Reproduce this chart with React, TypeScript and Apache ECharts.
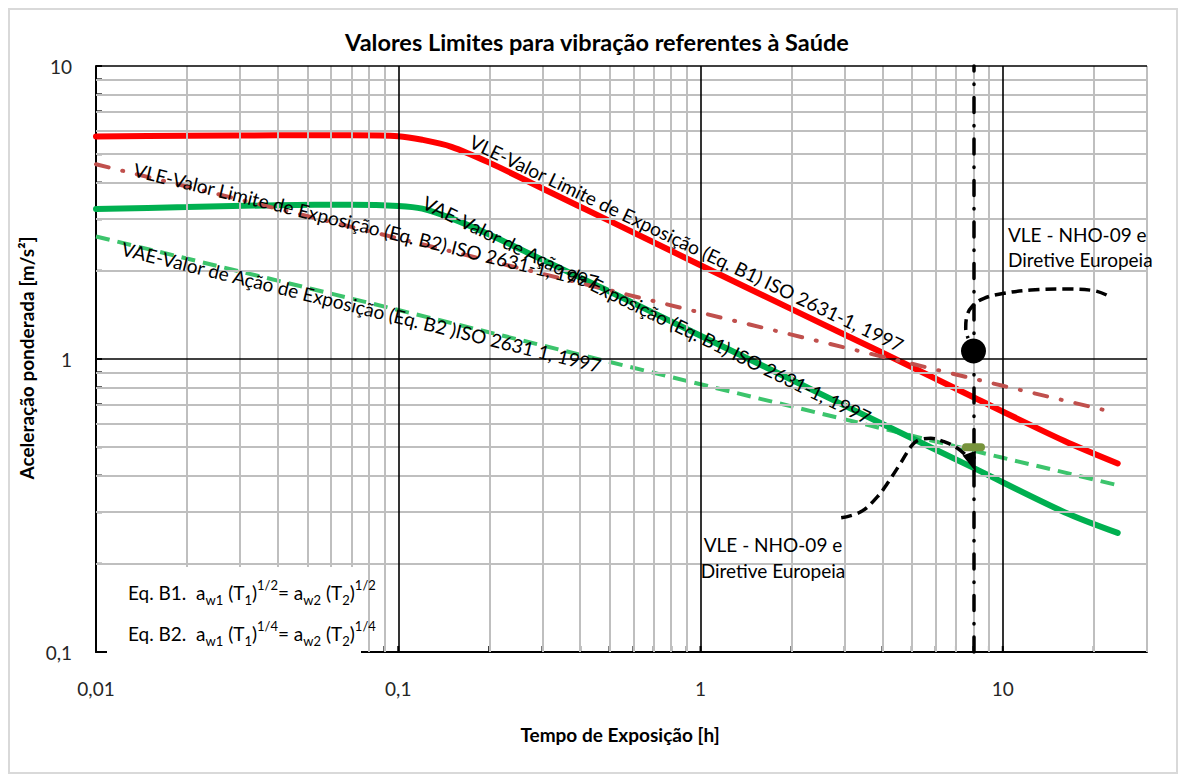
import React, { useEffect, useRef } from "react";
import * as echarts from "echarts";

// ---- axis ticks / labels ----
const xTickValues = [0.01, 0.1, 1, 10];
const xTickLabels = ["0,01", "0,1", "1", "10"];
const yTickValues = [0.1, 1, 10];
const yTickLabels = ["0,1", "1", "10"];

const xMinorGrid = [0.02, 0.03, 0.04, 0.05, 0.06, 0.07, 0.08, 0.09, 0.2, 0.3, 0.4, 0.5, 0.6, 0.7, 0.8, 0.9, 2, 3, 4, 5, 6, 7, 8, 9, 20, 30];
const xMajorGrid = [0.1, 1, 10];
const yMinorGrid = [0.2, 0.3, 0.4, 0.5, 0.6, 0.7, 0.8, 0.9, 2, 3, 4, 5, 6, 7, 8, 9];
const yMajorGrid = [1, 10];

// ---- series data (T in hours, a in m/s²) ----
const vleB1Time = [0.01, 0.02, 0.04, 0.07, 0.1, 0.12, 0.15, 0.2, 0.3, 0.5, 1, 2, 4, 8, 16, 24];
const vleB1Acc = [5.75, 5.78, 5.8, 5.8, 5.76, 5.6, 5.3, 4.68, 3.82, 2.96, 2.09, 1.48, 1.05, 0.74, 0.525, 0.44];

const vaeB1Time = [0.01, 0.02, 0.04, 0.07, 0.1, 0.12, 0.15, 0.2, 0.3, 0.5, 1, 2, 4, 8, 16, 24];
const vaeB1Acc = [3.25, 3.3, 3.35, 3.36, 3.33, 3.26, 3.02, 2.66, 2.18, 1.7, 1.2, 0.85, 0.6, 0.425, 0.3, 0.255];

const vleB2Time = [0.01, 0.1, 1, 10, 21.6];
const vleB2Acc = [4.62, 2.58, 1.44, 0.81, 0.67];

const vaeB2Time = [0.01, 0.1, 1, 10, 23.5];
const vaeB2Acc = [2.62, 1.47, 0.82, 0.46, 0.373];

const limitTime = 8;
const nhoVle = 1.065;
const nhoVae = 0.5;

const upperArrowTime = [22.05, 20.06, 15.96, 12.38, 10.1, 8.67, 7.94, 7.6, 7.54, 7.68];
const upperArrowAcc = [1.653, 1.711, 1.734, 1.72, 1.676, 1.611, 1.517, 1.394, 1.273, 1.177];

const lowerArrowTime = [2.92, 3.39, 3.85, 4.15, 4.59, 5.02, 5.35, 5.78, 6.39, 7.08, 7.64];
const lowerArrowAcc = [0.287, 0.301, 0.339, 0.376, 0.441, 0.509, 0.532, 0.536, 0.522, 0.496, 0.464];
const lowerArrowHead = [7.94, 0.443];

const zip = (xs: number[], ys: number[]) => xs.map((x, i) => [x, ys[i]]);

const FONT = "Lato, sans-serif";

const labelFor = (v: number, vals: number[], labels: string[]) => {
  for (let i = 0; i < vals.length; i++) {
    if (Math.abs(Math.log10(v) - Math.log10(vals[i])) < 1e-6) return labels[i];
  }
  return "";
};

const deg = (d: number) => (d * Math.PI) / 180;

const lineLabel = (text: string, x: number, y: number, rotDeg: number) => ({
  type: "text",
  x,
  y,
  rotation: deg(rotDeg),
  z: 60,
  style: {
    text,
    fontSize: 19,
    fontFamily: FONT,
    fill: "#000",
    textAlign: "left",
    textVerticalAlign: "middle",
  },
});

const eqRich = {
  n: { fontSize: 19, fontFamily: FONT, fill: "#000", lineHeight: 28, verticalAlign: "middle" },
  s: { fontSize: 13, fontFamily: FONT, fill: "#000", verticalAlign: "bottom" },
  p: { fontSize: 13, fontFamily: FONT, fill: "#000", verticalAlign: "top" },
};

export default function App() {
  const ref = useRef<HTMLDivElement>(null);

  useEffect(() => {
    if (!ref.current) return;
    const chart = echarts.init(ref.current, null, { renderer: "svg" });

    const gridLines = [
      ...xMinorGrid.map((v) => ({ xAxis: v, lineStyle: { color: "#bfbfbf", width: 2, type: "solid" } })),
      ...yMinorGrid.map((v) => ({ yAxis: v, lineStyle: { color: "#bfbfbf", width: 2, type: "solid" } })),
      ...xMajorGrid.map((v) => ({ xAxis: v, lineStyle: { color: "#000", width: 1.6, type: "solid" } })),
      ...yMajorGrid.map((v) => ({ yAxis: v, lineStyle: { color: "#000", width: 1.6, type: "solid" } })),
    ];

    const option: any = {
      animation: false,
      backgroundColor: "#fff",
      grid: { left: 86, top: 56, right: 29, bottom: 120, containLabel: false },
      xAxis: {
        type: "log",
        logBase: 10,
        min: 0.01,
        max: 30,
        axisLine: { show: true, onZero: false, lineStyle: { color: "#000", width: 2 } },
        axisTick: { show: false },
        splitLine: { show: false },
        minorSplitLine: { show: false },
        axisLabel: {
          margin: 27,
          fontSize: 19,
          fontFamily: FONT,
          color: "#262626",
          showMinLabel: true,
          formatter: (v: number) => labelFor(v, xTickValues, xTickLabels),
        },
      },
      yAxis: {
        type: "log",
        logBase: 10,
        min: 0.1,
        max: 10,
        axisLine: { show: true, onZero: false, lineStyle: { color: "#000", width: 2 } },
        axisTick: { show: false },
        splitLine: { show: false },
        minorSplitLine: { show: false },
        axisLabel: {
          margin: 24,
          fontSize: 19,
          fontFamily: FONT,
          color: "#262626",
          showMinLabel: true,
          showMaxLabel: true,
          formatter: (v: number) => labelFor(v, yTickValues, yTickLabels),
        },
      },
      series: [
        {
          name: "grid",
          type: "line",
          data: [[0.01, 0.1]],
          symbol: "none",
          lineStyle: { opacity: 0 },
          z: 1,
          silent: true,
          markLine: {
            silent: true,
            symbol: ["none", "none"],
            label: { show: false },
            animation: false,
            data: gridLines,
          },
        },
        {
          name: "ticksY",
          type: "scatter",
          data: [...yMinorGrid, ...yMajorGrid].map((v) => [0.01, v]),
          symbol: "rect",
          symbolSize: [6, 2],
          symbolOffset: [3, 0],
          itemStyle: { color: "#000", opacity: 1 },
          z: 2,
          silent: true,
        },
        {
          name: "ticksX",
          type: "scatter",
          data: [...xMinorGrid, ...xMajorGrid].map((v) => [v, 0.1]),
          symbol: "rect",
          symbolSize: [2, 6],
          symbolOffset: [0, -3],
          itemStyle: { color: "#000", opacity: 1 },
          z: 2,
          silent: true,
        },
        {
          name: "VAE B2",
          type: "line",
          data: zip(vaeB2Time, vaeB2Acc),
          symbol: "none",
          lineStyle: { color: "#3cc46c", width: 4, type: [14, 8] },
          z: 3,
        },
        {
          name: "VAE B1",
          type: "line",
          data: zip(vaeB1Time, vaeB1Acc),
          symbol: "none",
          smooth: 0.3,
          lineStyle: { color: "#00b050", width: 6, cap: "round" },
          z: 4,
        },
        {
          name: "VLE B1",
          type: "line",
          data: zip(vleB1Time, vleB1Acc),
          symbol: "none",
          smooth: 0.3,
          lineStyle: { color: "#ff0000", width: 6, cap: "round" },
          z: 4,
        },
        {
          name: "VLE B2",
          type: "line",
          data: zip(vleB2Time, vleB2Acc),
          symbol: "none",
          lineStyle: { color: "#c0504d", width: 4, type: [13, 14, 1, 14], cap: "round" },
          z: 5,
        },
        {
          name: "upperArrow",
          type: "line",
          data: zip(upperArrowTime, upperArrowAcc),
          symbol: "none",
          smooth: 0.4,
          lineStyle: { color: "#000", width: 3.5, type: [11, 6] },
          z: 6,
        },
        {
          name: "lowerArrow",
          type: "line",
          data: zip(lowerArrowTime, lowerArrowAcc),
          symbol: "none",
          smooth: 0.4,
          lineStyle: { color: "#000", width: 3.5, type: [11, 6] },
          z: 6,
        },
        {
          name: "limitLine",
          type: "line",
          data: [[limitTime, nhoVle]],
          symbol: "none",
          lineStyle: { opacity: 0 },
          z: 7,
          markLine: {
            silent: true,
            symbol: ["none", "none"],
            label: { show: false },
            animation: false,
            data: [{ xAxis: limitTime }],
            lineStyle: { color: "#000", width: 3.5, type: [15, 13, 0.5, 13], cap: "round" },
          },
        },
        {
          name: "arrowHead",
          type: "scatter",
          data: [lowerArrowHead],
          symbol: "triangle",
          symbolSize: [14, 20],
          symbolRotate: -160.6,
          itemStyle: { color: "#000", opacity: 1 },
          z: 8,
        },
        {
          name: "NHO VLE",
          type: "scatter",
          data: [[limitTime, nhoVle]],
          symbol: "circle",
          symbolSize: 25,
          itemStyle: { color: "#000", opacity: 1 },
          z: 8,
        },
        {
          name: "NHO VAE",
          type: "scatter",
          data: [[limitTime, nhoVae]],
          symbol: "path://M4,0 H20 A4,4 0 0 1 20,8 H4 A4,4 0 0 1 4,0 Z",
          symbolSize: [23, 8],
          itemStyle: { color: "#77933c", opacity: 1 },
          z: 9,
        },
      ],
      graphic: [
        {
          type: "text",
          x: 587,
          y: 32,
          z: 60,
          style: {
            text: "Valores Limites para vibração referentes à Saúde",
            fontSize: 23.5,
            fontWeight: "bold",
            fontFamily: FONT,
            fill: "#000",
            textAlign: "center",
            textVerticalAlign: "middle",
          },
        },
        {
          type: "text",
          x: 610,
          y: 724,
          z: 60,
          style: {
            text: "Tempo de Exposição [h]",
            fontSize: 19,
            fontWeight: "bold",
            fontFamily: FONT,
            fill: "#000",
            textAlign: "center",
            textVerticalAlign: "middle",
          },
        },
        {
          type: "text",
          x: 16,
          y: 348,
          rotation: Math.PI / 2,
          z: 60,
          style: {
            text: "Aceleração ponderada [m/s²]",
            fontSize: 19,
            fontWeight: "bold",
            fontFamily: FONT,
            fill: "#000",
            textAlign: "center",
            textVerticalAlign: "middle",
          },
        },
        {
          type: "rect",
          z: 50,
          shape: { x: 97, y: 557, width: 254, height: 90 },
          style: { fill: "#fff" },
        },
        {
          type: "text",
          x: 118,
          y: 582,
          z: 61,
          style: {
            text: "{n|Eq. B1.  a}{s|w1}{n| (T}{s|1}{n|)}{p|1/2}{n|= a}{s|w2}{n| (T}{s|2}{n|)}{p|1/2}",
            rich: eqRich,
            textAlign: "left",
            textVerticalAlign: "middle",
          },
        },
        {
          type: "text",
          x: 118,
          y: 623,
          z: 61,
          style: {
            text: "{n|Eq. B2.  a}{s|w1}{n| (T}{s|1}{n|)}{p|1/4}{n|= a}{s|w2}{n| (T}{s|2}{n|)}{p|1/4}",
            rich: eqRich,
            textAlign: "left",
            textVerticalAlign: "middle",
          },
        },
        lineLabel("VLE-Valor Limite de Exposição (Eq. B1) ISO 2631-1, 1997", 461, 130, -25.5),
        lineLabel("VAE-Valor de Ação de Exposição (Eq. B1) ISO 2631-1, 1997", 414, 191, -26),
        lineLabel("VLE-Valor Limite de Exposição (Eq. B2) ISO 2631-1, 1997", 124, 159, -13.7),
        lineLabel("VAE-Valor de Ação de Exposição (Eq. B2 )ISO 2631 1, 1997", 112, 238, -13.8),
        {
          type: "text",
          x: 998,
          y: 212,
          z: 60,
          style: {
            text: "VLE - NHO-09 e\nDiretive Europeia",
            fontSize: 19,
            fontFamily: FONT,
            lineHeight: 25,
            fill: "#000",
            textAlign: "left",
            textVerticalAlign: "top",
          },
        },
        {
          type: "text",
          x: 763,
          y: 521,
          z: 60,
          style: {
            text: "VLE - NHO-09 e\nDiretive Europeia",
            fontSize: 19,
            fontFamily: FONT,
            lineHeight: 26,
            fill: "#000",
            textAlign: "center",
            textVerticalAlign: "top",
          },
        },
      ],
    };

    chart.setOption(option);
    return () => chart.dispose();
  }, []);

  return (
    <div
      style={{
        width: 1170,
        height: 766,
        boxSizing: "border-box",
        border: "2px solid #d9d9d9",
        background: "#fff",
      }}
    >
      <div ref={ref} style={{ width: 1166, height: 762 }} />
    </div>
  );
}
